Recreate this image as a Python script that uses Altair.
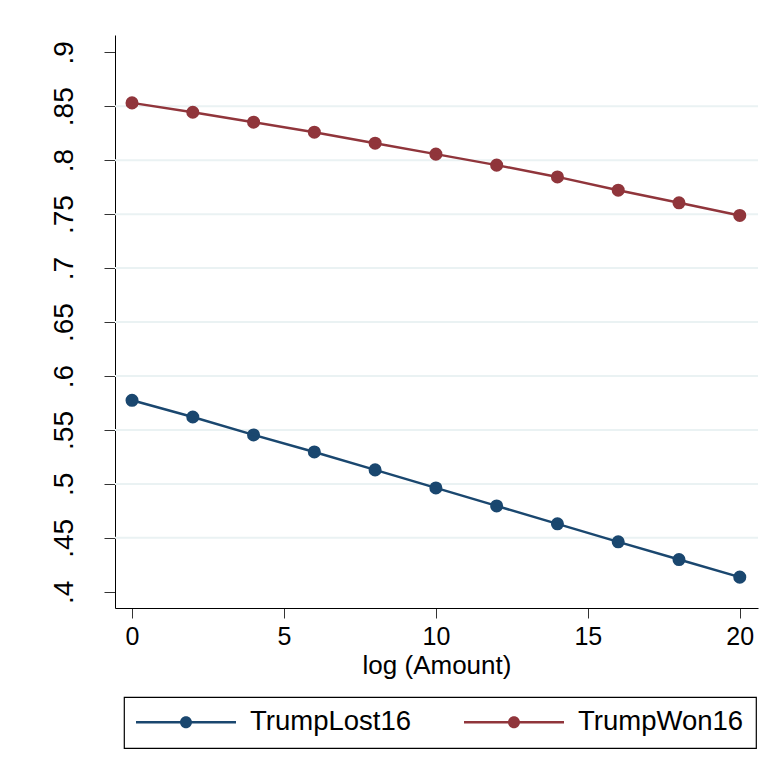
import altair as alt
import pandas as pd

x_vals = [0, 2, 4, 6, 8, 10, 12, 14, 16, 18, 20]
lost = [0.5775, 0.5620, 0.5454, 0.5296, 0.5130, 0.4963, 0.4796, 0.4630, 0.4463, 0.4299, 0.4136]
won = [0.8531, 0.8444, 0.8352, 0.8259, 0.8157, 0.8056, 0.7954, 0.7845, 0.7722, 0.7605, 0.7488]
series = ["TrumpLost16", "TrumpWon16"]
colors = ["#1A476F", "#90353B"]
y_ticks = [0.4, 0.45, 0.5, 0.55, 0.6, 0.65, 0.7, 0.75, 0.8, 0.85, 0.9]
grid_vals = [0.45, 0.5, 0.55, 0.6, 0.65, 0.7, 0.75, 0.8, 0.85]
x_ticks = [0, 5, 10, 15, 20]

df = pd.DataFrame({
    "x": x_vals * 2,
    "y": lost + won,
    "group": [series[0]] * len(x_vals) + [series[1]] * len(x_vals),
})
grid_df = pd.DataFrame({"y": grid_vals})

FONT = "Liberation Sans"

xscale = alt.Scale(domain=[-0.56, 20.6], nice=False, zero=False)
yscale = alt.Scale(domain=[0.385, 0.916], nice=False, zero=False)

x_enc = alt.X("x:Q", scale=xscale, title="log (Amount)",
              axis=alt.Axis(values=x_ticks, grid=False, tickSize=10, labelPadding=6,
                            labelFontSize=25, titleFontSize=26, titlePadding=3,
                            labelFont=FONT, titleFont=FONT, titleFontWeight="normal",
                            domainColor="#000000", tickColor="#333333", labelColor="#000000",
                            titleColor="#000000", labelFlush=False))
y_enc = alt.Y("y:Q", scale=yscale, title=None,
              axis=alt.Axis(values=y_ticks, grid=False, tickSize=11, labelPadding=32,
                            labelAngle=270, labelAlign="center", labelBaseline="alphabetic",
                            labelFontSize=28, labelFont=FONT, labelColor="#000000",
                            labelExpr="substring(format(datum.value, '.2~f'), 1)",
                            domainColor="#000000", tickColor="#333333", labelFlush=False))

color_scale = alt.Scale(domain=series, range=colors)

sym_path = ("M-1,-0.025H-0.1V0.025H-1Z "
            "M0.1,-0.025H1V0.025H0.1Z "
            "M-0.12,0A0.12,0.12 0 1,1 0.12,0A0.12,0.12 0 1,1 -0.12,0Z")

legend = alt.Legend(title=None, orient="none", legendX=9, legendY=662,
                    direction="horizontal", columns=2,
                    symbolType=sym_path, symbolSize=10000,
                    symbolStrokeWidth=0, clipHeight=26,
                    labelFontSize=27.5, labelFont=FONT, labelColor="#000000",
                    labelOffset=14, columnPadding=53, padding=12,
                    strokeColor="#000000", fillColor="#FFFFFF",
                    labelLimit=400)

grid = alt.Chart(grid_df).mark_rule(color="#EAF2F3", strokeWidth=2).encode(y=y_enc)

points = alt.Chart(df).mark_point(filled=True, size=170, opacity=1).encode(
    x=x_enc, y=y_enc,
    color=alt.Color("group:N", scale=color_scale, legend=legend),
)

lines = alt.Chart(df).mark_line(strokeWidth=2.5).encode(
    x=x_enc, y=y_enc,
    color=alt.Color("group:N", scale=color_scale, legend=legend),
)

chart = alt.layer(grid, points, lines).properties(
    width=643, height=573,
    autosize=alt.AutoSizeParams(type="none"),
    padding={"left": 107, "top": 27, "right": 5, "bottom": 150},
).configure_view(stroke=None).configure_legend(strokeWidth=1.2)

chart.save("out.html", embed_options={"renderer": "svg", "actions": False})
